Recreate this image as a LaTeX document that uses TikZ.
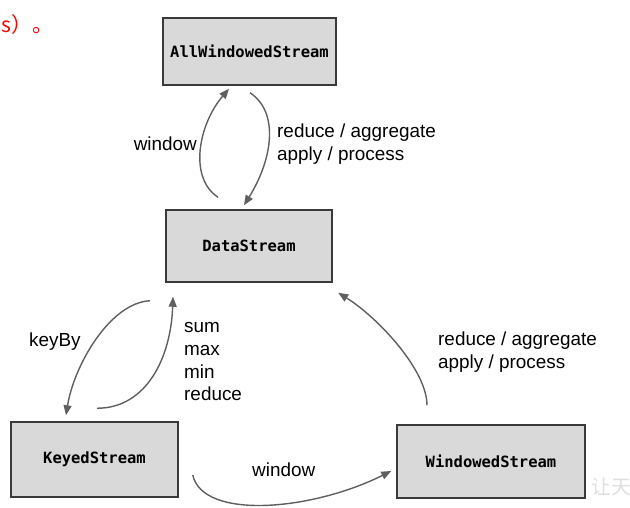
\documentclass[tikz,border=0pt]{standalone}
\usepackage{fontspec}
\setmainfont{Liberation Sans}
\newfontfamily\boxfont{DejaVu Sans Mono}
\newfontfamily\cjkfont{Noto Sans CJK SC}
\usetikzlibrary{arrows.meta}

\definecolor{boxfill}{HTML}{D9D9D9}
\definecolor{boxline}{HTML}{3A3A3A}
\definecolor{arrowgray}{HTML}{5F5F5F}

\begin{document}
\begin{tikzpicture}[x=1pt, y=-1pt,
    stream/.style={draw=boxline, line width=1.5pt, fill=boxfill, inner sep=0pt,
        font=\boxfont\bfseries\fontsize{15.5}{18}\selectfont},
    flow/.style={draw=arrowgray, line width=1.4pt, -{Triangle[length=10pt,width=8pt]}},
    lbl/.style={anchor=base west, inner sep=0pt, font=\fontsize{18.9}{23}\selectfont}]
        \useasboundingbox (0,0) rectangle (630,507);

        % Stream boxes
        \node[stream, minimum width=173pt, minimum height=67pt] (allwin) at (249.5,51.5) {AllWindowedStream};
        \node[stream, minimum width=166pt, minimum height=72pt] (data) at (249,246) {DataStream};
        \node[stream, minimum width=167pt, minimum height=75pt] (keyed) at (94.5,459.5) {KeyedStream};
        \node[stream, minimum width=188pt, minimum height=73pt] (win) at (491,461.5) {WindowedStream};


        % Transitions
        \draw[flow] ([shift={(-31,-12)}]data.north) .. controls +(-30,-20) and +(-30,35) .. ([shift={(-20.5,3)}]allwin.south);
        \draw[flow] ([shift={(0.5,7)}]allwin.south) .. controls +(30,20) and +(28,-45) .. ([shift={(-5,-4)}]data.north);
        \draw[flow] ([shift={(-99,18)}]data.south) .. controls +(-40,2) and +(8,-50) .. ([shift={(-28.5,-6)}]keyed.north);
        \draw[flow] ([shift={(2.5,-13)}]keyed.north) .. controls +(50,0) and +(-2,60) .. ([shift={(-76,14)}]data.south);
        \draw[flow] ([shift={(14,15.5)}]keyed.east) .. controls +(10,45) and +(-80,40) .. ([shift={(-5,9.5)}]win.west);
        \draw[flow] ([shift={(-64,-19)}]win.north) .. controls +(0,-35) and +(40,25) .. ([shift={(5.5,10)}]data.south east);


        % Labels
        \node[lbl, anchor=base east] (winup) at (197,150) {window};
        \node[lbl] (reduceup) at (277,137.5) {reduce / aggregate};
        \node[lbl] (applyup) at (277,160.5) {apply / process};
        \node[lbl] (keyby) at (29,346.5) {keyBy};
        \node[lbl] (sum) at (184,332) {sum};
        \node[lbl] (max) at (184,355) {max};
        \node[lbl] (min) at (184,378) {min};
        \node[lbl] (reducek) at (184,400) {reduce};
        \node[lbl] (windown) at (252,476) {window};
        \node[lbl] (reducew) at (438,345.5) {reduce / aggregate};
        \node[lbl] (applyw) at (438,368.5) {apply / process};

        % Cut-off note and watermark
        \node[anchor=base west, inner sep=0pt, text=red, font=\cjkfont\fontsize{21}{21}\selectfont] (note) at (1,32) {s）。};
        \node[anchor=base west, inner sep=0pt, text=gray!25, font=\cjkfont\fontsize{20}{20}\selectfont] (mark) at (591,494) {让天};
\end{tikzpicture}
\end{document}
